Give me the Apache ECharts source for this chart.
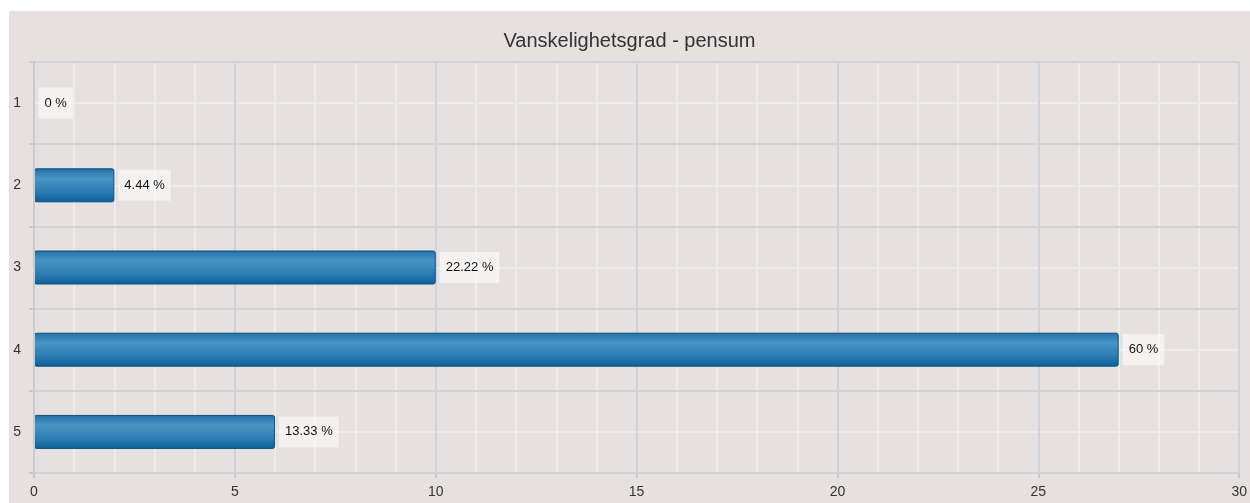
<!DOCTYPE html>
<html>
<head>
<meta charset="utf-8">
<script src="https://cdn.jsdelivr.net/npm/echarts@6/dist/echarts.min.js"></script>
<style>
  html, body { margin: 0; padding: 0; background: #fff; }
  #chart { position: absolute; left: 9px; top: 11px; width: 1241px; height: 492px; background: #e6e0e0; }
</style>
</head>
<body>
<div id="chart"></div>
<script>
// data
var categories = ["1", "2", "3", "4", "5"];
var counts = [0, 2, 10, 27, 6];
var total = counts.reduce(function (a, b) { return a + b; }, 0);

var chart = echarts.init(document.getElementById("chart"));

var option = {
  backgroundColor: "#e6e0e0",
  animation: false,
  title: {
    text: "Vanskelighetsgrad - pensum",
    left: "center",
    top: 15,
    textStyle: { fontFamily: "Liberation Sans", fontSize: 20, fontWeight: "normal", color: "#333" },
  },
  grid: { left: 25, right: 10, top: 51, bottom: 30 },
  xAxis: {
    type: "value",
    min: 0,
    max: 30,
    interval: 5,
    axisLine: { show: true, lineStyle: { color: "#c6cacf", width: 2 } },
    axisTick: { show: true, length: 5, lineStyle: { color: "#c6cacf", width: 2 } },
    axisLabel: { color: "#333", fontFamily: "Liberation Sans", fontSize: 14, margin: 12 },
    splitLine: { show: true, lineStyle: { color: "#cfd3d9", width: 2 } },
    minorTick: { show: false, splitNumber: 5 },
    minorSplitLine: { show: true, lineStyle: { color: "#eeebeb", width: 2 } },
  },
  yAxis: [
    {
      type: "category",
      data: categories,
      inverse: true,
      axisLine: { show: true, lineStyle: { color: "#c6cacf", width: 2 } },
      axisTick: { show: true, length: 5, lineStyle: { color: "#c6cacf", width: 2 } },
      axisLabel: { color: "#333", fontFamily: "Liberation Sans", fontSize: 14, margin: 13 },
      splitLine: { show: true, lineStyle: { color: "#cfd3d9", width: 2 } },
      z: 3,
    },
    {
      type: "value",
      min: 0,
      max: 5,
      interval: 1,
      position: "left",
      axisLine: { show: false },
      axisTick: { show: false },
      axisLabel: { show: false },
      splitLine: { show: false },
      minorTick: { show: false, splitNumber: 2 },
      minorSplitLine: { show: true, lineStyle: { color: "#eeebeb", width: 2 } },
    },
  ],
  series: [
    {
      type: "bar",
      yAxisIndex: 0,
      data: counts,
      barWidth: 34,
      itemStyle: {
        color: {
          type: "linear",
          x: 0, y: 0, x2: 0, y2: 1,
          colorStops: [
            { offset: 0, color: "#1f6fa6" },
            { offset: 0.3, color: "#4a95c6" },
            { offset: 0.7, color: "#2a7cb3" },
            { offset: 1, color: "#0a5f98" },
          ],
        },
        borderColor: "#0d4f7e",
        borderWidth: 1,
        borderRadius: 2,
      },
      label: {
        show: true,
        position: "right",
        distance: 4,
        color: "#111",
        fontFamily: "Liberation Sans",
        fontSize: 13,
        backgroundColor: "rgba(255,255,255,0.55)",
        padding: [9, 6, 9, 6],
        formatter: function (p) {
          return parseFloat((p.value / total * 100).toFixed(2)) + " %";
        },
      },
    },
  ],
};

chart.setOption(option);
window.onresize = chart.resize;
</script>
</body>
</html>
